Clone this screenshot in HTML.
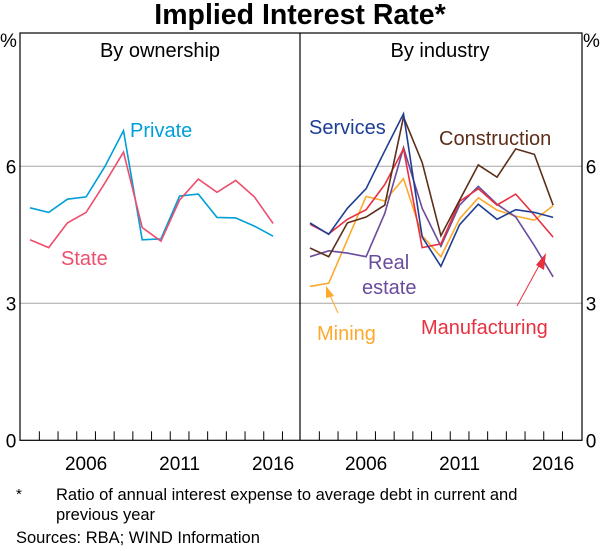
<!DOCTYPE html>
<html><head><meta charset="utf-8"><style>
body{margin:0;background:#fff;width:600px;height:546px;overflow:hidden;font-family:"Liberation Sans",sans-serif}
svg text{font-family:"Liberation Sans",sans-serif}
</style></head><body>
<svg id="c" width="600" height="546" viewBox="0 0 600 546" xmlns="http://www.w3.org/2000/svg">
<text x="300" y="24" text-anchor="middle" font-size="28.5" font-weight="bold">Implied Interest Rate*</text>
<text x="0" y="47" font-size="19">%</text>
<text x="583" y="47" font-size="19">%</text>
<text x="160" y="57" text-anchor="middle" font-size="20">By ownership</text>
<text x="440" y="57" text-anchor="middle" font-size="20">By industry</text>
<g id="grid"></g><g id="lines"></g><g id="axes"></g>
<text x="130" y="137" font-size="20" fill="#009fd8">Private</text>
<text x="61" y="265" font-size="20" fill="#ee4e6c">State</text>
<text x="309" y="134" font-size="20" fill="#1f3e93">Services</text>
<text x="439" y="145" font-size="20" fill="#5c2e1a">Construction</text>
<text x="368" y="269" font-size="20" fill="#6a4c9c">Real</text>
<text x="362" y="294" font-size="20" fill="#6a4c9c">estate</text>
<text x="317" y="340" font-size="20" fill="#fbaa2d">Mining</text>
<text x="421" y="334" font-size="20" fill="#e8303f">Manufacturing</text>
<g><line x1="338" y1="313" x2="329" y2="293" stroke="#fbaa2d" stroke-width="1"/><polygon points="326,286 334,296 326,298" fill="#fbaa2d"/></g>
<g><line x1="517" y1="306" x2="541" y2="262" stroke="#e8303f" stroke-width="1"/><polygon points="546,253 544,270 536,265" fill="#e8303f"/></g>
<text x="16" y="499" font-size="15">*</text>
<text x="56" y="500" font-size="16.5">Ratio of annual interest expense to average debt in current and</text>
<text x="56" y="520" font-size="16.5">previous year</text>
<text x="16" y="543" font-size="16.5">Sources: RBA; WIND Information</text>
</svg>
<script>
const years=[2003,2004,2005,2006,2007,2008,2009,2010,2011,2012,2013,2014,2015,2016];
const yTicks=[0,3,6];
const xLabels=[2006,2011,2016];
const privateVals=[5.09,4.99,5.28,5.33,5.99,6.78,4.39,4.41,5.35,5.39,4.88,4.87,4.69,4.47];
const stateVals=[4.39,4.22,4.76,4.99,5.63,6.31,4.66,4.36,5.26,5.72,5.43,5.69,5.33,4.75];
const servicesVals=[4.76,4.51,5.08,5.51,6.34,7.15,4.45,3.81,4.72,5.17,4.84,5.05,4.99,4.88];
const constructionVals=[4.21,4.02,4.76,4.89,5.15,7.08,6.08,4.48,5.26,6.03,5.76,6.38,6.26,5.15];
const manufacturingVals=[4.73,4.52,4.84,5.05,5.6,6.38,4.22,4.3,5.23,5.51,5.15,5.39,4.93,4.45];
const miningVals=[3.37,3.44,4.39,5.34,5.24,5.73,4.48,4.02,4.85,5.31,5.04,4.91,4.82,5.14];
const realEstateVals=[4.02,4.15,4.10,4.02,4.97,6.41,5.08,4.25,5.15,5.56,5.17,4.89,4.26,3.58];
const NS='http://www.w3.org/2000/svg';
const L=20,M=300,R=582,T=33,B=440.3;
function yS(v){return B-v*45.67;}
function xS(yr,panel){return (panel?310:30)+(yr-2003)*18.7;}
function mk(tag,attrs,parent){const e=document.createElementNS(NS,tag);for(const k in attrs)e.setAttribute(k,attrs[k]);parent.appendChild(e);return e;}
const grid=document.getElementById('grid'),axes=document.getElementById('axes'),lines=document.getElementById('lines');
yTicks.forEach(v=>{
 if(v>0){const g=mk('line',{x1:L,x2:R,y1:yS(v),y2:yS(v),stroke:'#a6a6a6','stroke-width':1},grid);
 
 }
 const t1=mk('text',{x:11,y:yS(v)+7,'text-anchor':'middle','font-size':19},axes);t1.textContent=v;
 
 
 const t2=mk('text',{x:591,y:yS(v)+7,'text-anchor':'middle','font-size':19},axes);t2.textContent=v;
 
 
});
const fr=mk('rect',{x:L,y:T,width:R-L,height:B-T,fill:'none',stroke:'#000','stroke-width':1.2},axes);


const dv=mk('line',{x1:M,x2:M,y1:T,y2:B,stroke:'#000','stroke-width':1.2},axes);


[0,1].forEach(p=>{
 years.forEach(yr=>{const x=xS(yr,p)+9.35;if(x<(p?R:M)-3){const tk=mk('line',{x1:x,x2:x,y1:B,y2:B-9,stroke:'#000','stroke-width':1},axes);
 
 }});
 xLabels.forEach(yr=>{const t=mk('text',{x:xS(yr,p),y:470,'text-anchor':'middle','font-size':19},axes);t.textContent=yr;
 
 });
});
function series(vals,panel,color,name){
 const pts=vals.map((v,i)=>xS(years[i],panel).toFixed(1)+','+yS(v).toFixed(1)).join(' ');
 const pl=mk('polyline',{points:pts,fill:'none',stroke:color,'stroke-width':1.6,'stroke-linejoin':'miter'},lines);
 
 
}
series(privateVals,0,'#009fd8','private-line');
series(stateVals,0,'#ee4e6c','state-line');
series(miningVals,1,'#fbaa2d','mining-line');
series(realEstateVals,1,'#6a4c9c','real-estate-line');
series(manufacturingVals,1,'#e8303f','manufacturing-line');
series(constructionVals,1,'#5c2e1a','construction-line');
series(servicesVals,1,'#1f3e93','services-line');
</script>
</body></html>
